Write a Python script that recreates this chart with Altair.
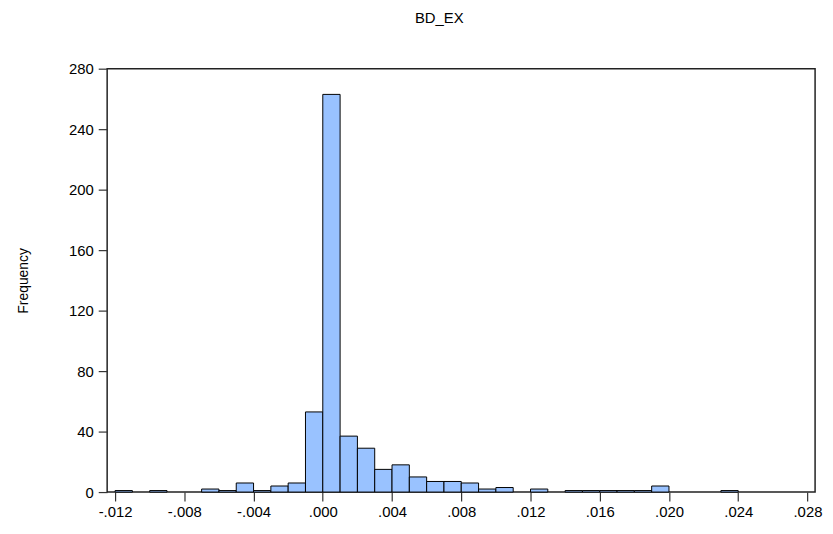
import altair as alt
import pandas as pd

# Histogram of BD_EX, bin width 0.001
bin_starts = [-0.012, -0.011, -0.010, -0.009, -0.008, -0.007, -0.006, -0.005,
              -0.004, -0.003, -0.002, -0.001, 0.000, 0.001, 0.002, 0.003,
              0.004, 0.005, 0.006, 0.007, 0.008, 0.009, 0.010, 0.011,
              0.012, 0.013, 0.014, 0.015, 0.016, 0.017, 0.018, 0.019,
              0.020, 0.021, 0.022, 0.023]
counts = [1, 0, 1, 0, 0, 2, 1, 6,
          1, 4, 6, 53, 263, 37, 29, 15,
          18, 10, 7, 7, 6, 2, 3, 0,
          2, 0, 1, 1, 1, 1, 1, 4,
          0, 0, 0, 1]
bin_width = 0.001
x_ticks = [-0.012, -0.008, -0.004, 0.0, 0.004, 0.008, 0.012, 0.016, 0.020, 0.024, 0.028]
y_ticks = [0, 40, 80, 120, 160, 200, 240, 280]

df = pd.DataFrame({"start": bin_starts, "count": counts})
df["end"] = df["start"] + bin_width
df = df[df["count"] > 0]

FONT = "Liberation Sans"

chart = alt.Chart(df).mark_bar(
    fill="#99c2ff", stroke="#000000", strokeWidth=1
).encode(
    x=alt.X("start:Q",
            scale=alt.Scale(domain=[-0.012458, 0.028441], nice=False, zero=False),
            axis=alt.Axis(values=x_ticks, title=None, grid=False,
                          labelExpr="replace(replace(format(datum.value, '.3f'), '0.', '.'), '\u2212', '-')",
                          tickSize=9, labelPadding=4, domain=False)),
    x2="end:Q",
    y=alt.Y("count:Q",
            scale=alt.Scale(domain=[0, 280], nice=False),
            axis=alt.Axis(values=y_ticks, title="Frequency", grid=False,
                          tickSize=9, labelPadding=5, titlePadding=38, domain=False)),
    y2=alt.datum(0),
).properties(
    width=714,
    height=427,
    title=alt.TitleParams("BD_EX", fontSize=15, fontWeight="normal", font=FONT,
                          color="#000000", offset=36, dx=-22),
    autosize=alt.AutoSizeParams(type="none"),
    padding={"left": 100, "top": 59, "right": 10, "bottom": 30},
).configure_view(
    stroke="#222222", strokeWidth=1.5
).configure_axis(
    labelFont=FONT, titleFont=FONT, labelFontSize=15, titleFontSize=14,
    labelColor="#000000", titleColor="#000000", titleFontWeight="normal",
    tickColor="#333333", tickWidth=1.2,
)

chart.save("out.html", embed_options={"renderer": "svg", "actions": False})
